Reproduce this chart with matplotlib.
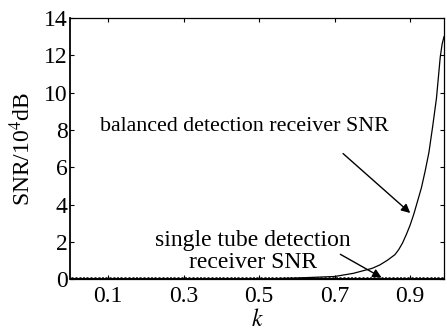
import matplotlib
matplotlib.use("Agg")
import matplotlib.pyplot as plt
import numpy as np

plt.rcParams['font.family'] = ['Liberation Serif', 'DejaVu Serif']
plt.rcParams['mathtext.fontset'] = 'stix'

# Data
k_balanced = [0.0, 0.1, 0.2, 0.3, 0.4, 0.5, 0.6, 0.7, 0.75, 0.8, 0.82, 0.84, 0.86,
              0.87, 0.88, 0.89, 0.9, 0.91, 0.92, 0.93, 0.94, 0.95, 0.96, 0.97,
              0.975, 0.98, 0.985, 0.99]
snr_balanced = [0.0, 0.0, 0.0, 0.0, 0.0, 0.02, 0.08, 0.16, 0.33, 0.6, 0.78, 1.03, 1.33,
                1.6, 1.95, 2.4, 2.9, 3.5, 4.2, 4.9, 5.8, 6.8, 8.2, 9.7,
                10.8, 11.9, 12.6, 13.0]
k_single = list(np.round(np.arange(0.0, 0.995, 0.01), 2))
snr_single = [0.0] * len(k_single)

xticks = [0.1, 0.3, 0.5, 0.7, 0.9]
xtick_labels = ['0.1', '0.3', '0.5', '0.7', '0.9']
yticks = [0, 2, 4, 6, 8, 10, 12, 14]

fig = plt.figure(figsize=(4.47, 3.33), dpi=100)
ax = fig.add_axes([0.1575, 0.1607, 0.9933 - 0.1575, 0.946 - 0.1607])

ax.plot(k_single, snr_single, color='black', lw=2.2, marker='x', ms=2.5, mew=0.9)
ax.plot(k_balanced, snr_balanced, color='black', lw=0.9)

ax.set_xlim(0, 0.99)
ax.set_ylim(0, 14)
ax.set_xticks(xticks)
ax.set_xticklabels(xtick_labels)
ax.set_yticks(yticks)
ax.tick_params(direction='in', top=True, right=True, labelsize=17, length=3, width=0.8)
ax.tick_params(axis='x', pad=5)
ax.tick_params(axis='y', pad=2)
for s in ax.spines.values():
    s.set_linewidth(0.9)
ax.spines['left'].set_linewidth(1.3)

ax.set_xlabel('$k$', fontsize=17, labelpad=1)
ax.set_ylabel('SNR/10$^4$dB', fontsize=17, labelpad=6)

ax.annotate('', xy=(0.906, 3.46), xytext=(0.717, 6.84),
            arrowprops=dict(arrowstyle='-|>', color='black', lw=1.0, mutation_scale=13))
ax.text(0.462, 8.18, 'balanced detection receiver SNR', fontsize=15.8,
        ha='center', va='center')

ax.annotate('', xy=(0.831, 0.03), xytext=(0.709, 1.42),
            arrowprops=dict(arrowstyle='-|>', color='black', lw=1.0, mutation_scale=13))
ax.text(0.484, 1.5, 'single tube detection\nreceiver SNR', fontsize=17,
        ha='center', va='center', linespacing=1.12)

fig.savefig('out.png', dpi=100)
